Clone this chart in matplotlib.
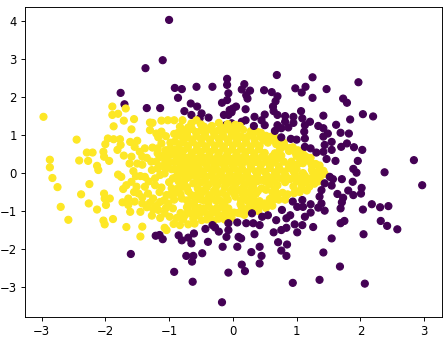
import matplotlib
matplotlib.use("Agg")
import matplotlib.pyplot as plt
import numpy as np

x_ticks = [-3, -2, -1, 0, 1, 2, 3]
y_ticks = [-3, -2, -1, 0, 1, 2, 3, 4]

# purple points that sit beneath the yellow cloud (upper-left edge)
purple_under = [
(-1.00,4.03),(-1.10,2.97),(-1.37,2.76),(-1.76,2.11),(-1.70,1.81),(-1.35,1.71),(-1.14,1.71),(-0.91,2.24),(-0.80,2.21),(-0.86,1.98),
(-0.57,2.27),(-0.32,2.27),(-0.09,2.48),(-0.09,2.32),(-0.07,2.10),(-0.09,1.92),(-0.17,1.85),(-0.66,1.83),(-0.56,1.75),(-0.76,1.63),
(-0.65,1.53),(-0.49,1.57),(-0.52,1.44),(-0.38,1.46),(-0.14,1.53),(-0.05,1.66),(0.00,1.70),(-0.07,1.53),(-0.11,1.26),(-0.02,1.31),
(0.05,1.75),(-0.02,1.60),(0.20,1.39),(0.14,1.35),
]

purple_over = [
(0.69,2.58),(1.25,2.52),(1.97,2.39),(0.18,2.34),(0.14,2.20),(0.27,2.17),(0.21,2.05),(0.23,1.96),(0.49,2.18),(0.61,2.13),
(0.70,2.02),(0.67,1.89),(0.63,1.75),(0.64,1.63),(0.98,2.23),(1.14,2.27),(1.08,2.12),(1.47,2.21),(1.25,1.98),(1.73,1.96),
(1.79,1.85),(1.07,1.63),(1.42,1.51),(2.04,1.55),(2.20,1.49),(1.84,1.41),(1.62,1.27),(1.69,1.06),(1.82,1.04),(0.20,1.68),
(0.34,1.48),(0.50,1.54),(0.45,1.39),(0.33,1.24),(0.50,1.26),(0.70,1.53),
(0.82,1.50),(0.95,1.48),(0.95,1.32),(0.82,1.35),(0.70,1.26),(0.66,1.11),(0.76,1.18),(0.87,1.20),(0.76,0.94),(0.91,0.90),
(1.00,0.88),(1.09,1.44),(1.21,1.35),(1.13,1.26),(1.12,1.09),(1.13,0.91),(1.13,0.69),(1.22,0.65),(1.34,1.24),(1.42,1.18),
(1.49,1.04),(1.42,0.96),(1.55,0.82),(1.44,0.74),(1.55,0.61),(1.31,0.54),(1.42,0.56),(1.70,0.69),(1.79,0.78),(1.90,0.68),
(2.03,0.61),(1.47,0.37),(1.61,0.32),(1.96,0.32),(2.84,0.34),(1.89,0.11),(1.94,0.01),(2.38,0.02),(2.97,-0.32),(1.88,-0.23),
(1.71,-0.16),(1.52,-0.10),(1.57,-0.16),(1.44,-0.27),(1.55,-0.33),(2.02,-0.39),(2.01,-0.54),(1.81,-0.46),(1.89,-0.58),(1.64,-0.55),
(1.73,-0.65),(1.71,-0.77),(1.69,-0.93),(2.18,-0.82),(2.31,-0.90),(2.44,-0.87),(2.04,-0.96),(1.39,-0.45),(1.36,-0.62),(1.39,-0.80),
(1.34,-0.91),(1.44,-0.99),(1.22,-0.82),(1.22,-1.04),(1.13,-1.15),(1.09,-0.71),(0.94,-0.75),(1.01,-0.89),(1.10,-0.89),(0.77,-0.97),
(0.90,-1.11),(0.84,-1.19),(0.68,-1.24),(0.55,-1.11),(0.46,-1.15),(0.30,-1.06),(0.42,-1.37),(0.32,-1.32),(0.21,-1.32),(0.07,-1.30),
(-0.07,-1.32),(-0.07,-1.50),(-0.10,-1.68),(0.97,-1.35),(1.09,-1.37),(0.84,-1.44),(0.76,-1.50),(0.64,-1.56),(1.01,-1.56),(1.26,-1.42),
(0.34,-1.61),(0.09,-1.68),(0.13,-1.72),(1.55,-1.72),(1.69,-1.32),(1.75,-1.26),(2.32,-1.26),(2.42,-1.39),(2.58,-1.48),(2.05,-1.61),
(0.71,-1.82),(0.85,-1.88),(0.42,-1.94),(0.07,-1.94),(0.29,-2.08),(0.76,-2.04),(0.84,-2.18),(0.45,-2.18),(0.42,-2.38),(1.42,-2.09),
(1.68,-2.46),(0.14,-2.41),(0.19,-2.58),(-0.07,-2.62),(0.94,-2.89),(1.36,-2.81),(2.07,-2.91),(-0.17,-3.40),
(-1.60,-2.13),(-1.21,-1.65),(-1.15,-1.63),(-1.10,-1.74),(-0.85,-1.64),(-0.80,-1.77),(-0.70,-1.70),(-0.61,-1.59),(-0.65,-1.85),(-0.43,-1.47),
(-0.32,-1.37),(-0.28,-1.43),(-0.22,-1.54),(-0.39,-1.81),(-0.16,-1.94),(-0.48,-2.11),(-0.73,-2.18),(-0.62,-2.18),(-0.64,-2.33),(-0.92,-2.60),
(-0.63,-2.86),
]

yellow_outer = [
(-2.97,1.48),(-1.89,1.75),(-1.68,1.70),(-1.89,1.53),(-1.80,1.56),(-1.71,1.38),(-1.55,1.42),(-1.87,1.23),(-1.59,1.15),(-2.45,0.88),
(-1.96,0.91),(-2.00,0.76),(-1.87,0.89),(-1.77,0.89),(-1.76,0.74),(-1.81,0.61),(-1.61,0.82),(-1.50,0.85),(-1.54,0.69),(-1.38,0.65),
(-1.26,0.67),(-1.46,0.56),(-1.42,0.43),(-1.71,0.46),(-1.59,0.43),(-1.62,0.25),(-2.29,0.54),(-2.20,0.54),(-2.41,0.33),(-2.27,0.32),
(-2.87,0.35),(-2.87,0.15),(-2.03,0.56),(-2.02,0.43),(-1.94,0.32),(-2.13,0.19),(-1.30,1.33),(-1.26,1.32),(-1.30,1.13),(-1.12,1.38),
(-1.02,1.39),(-0.92,1.39),(-0.79,1.39),(-1.20,1.04),(-1.12,1.09),(-1.17,0.94),(-0.92,1.03),(-0.83,1.22),(-0.57,1.39),(-0.33,1.24),
(-1.28,0.30),(-1.50,0.25),(-1.42,0.22),(-1.35,0.40),
(-2.83,-0.13),(-2.75,-0.37),(-2.70,-0.89),(-2.58,-1.23),(-2.38,-0.56),(-2.25,-0.29),(-2.26,-0.80),(-2.13,-0.96),(-2.02,-0.54),(-2.01,-0.67),
(-1.93,-0.67),(-1.99,-0.84),(-2.03,-1.25),(-2.01,-1.35),(-1.88,-1.21),(-1.67,-1.42),(-1.42,-1.41),(-1.45,-1.67),(-2.11,0.08),(-1.80,-0.04),
(-1.75,-0.10),(-1.72,-0.42),(-1.67,-0.32),(-1.59,-0.23),(-1.51,-0.36),(-1.64,-0.67),(-1.73,-0.77),(-1.61,-1.02),(-1.64,-0.84),(-1.54,-0.75),
(-1.45,-1.02),(-1.35,-0.90),(-1.27,-1.12),(-1.17,-0.97),(-1.14,-1.18),(-1.07,-1.44),(-1.04,-1.50),(-1.56,0.05),(-1.38,-0.10),(-1.22,-0.14),
(-1.27,0.08),(-1.38,-0.36),(-1.22,-0.32),(-1.25,-0.67),(-1.33,-0.54),(-1.48,-0.54),(-1.45,-0.08),(-1.52,-0.08),
(-1.55,-0.50),(-1.42,-0.64),(-1.30,-0.78),(-1.20,-0.86),(-1.42,-0.80),(-1.15,-0.50),(-1.32,-0.22),(-1.18,0.52),(-1.14,-0.76),(-1.25,-0.95),
]

yellow_core_a = [
(-1.07,-0.01),(-0.94,-0.14),(-0.96,-0.40),(-1.04,-0.58),(-1.01,-0.80),(-0.94,-0.93),(-0.99,-1.15),(-0.88,-1.18),(-0.75,-1.11),(-0.83,-1.37),
(-0.70,-1.35),(-0.57,-1.11),(-0.49,-1.24),(-0.36,-1.11),(-0.20,-1.11),(-0.07,-0.93),(-0.67,-0.80),(-0.46,-0.93),(-0.80,-0.67),(-0.57,-0.58),
(-0.78,-0.36),(-0.62,-0.27),(-0.70,-1.00),(-0.58,-0.98),(-0.32,-0.96),(-0.18,-0.90),(-0.13,-1.22),(-0.30,-1.25),(-0.92,-0.70),(-0.90,-0.52),
(-0.70,-0.48),(-0.45,-0.72),(-0.33,-0.66),(-0.20,-0.72),(-0.08,-0.70),(0.04,-0.62),(-0.45,-0.45),(-0.30,-0.48),(-0.16,-0.52),(-0.03,-0.46),
(0.10,-0.45),(0.22,-0.52),(-1.00,-0.24),(-0.85,-0.22),(-0.50,-0.25),(-0.38,-0.30),(-0.24,-0.30),(-0.10,-0.28),(0.05,-0.27),(0.18,-0.31),
(0.32,-0.34),(0.45,-0.40),(0.58,-0.30),(0.70,-0.32),(0.78,-0.52),(0.62,-0.50),(0.36,-0.55),(0.35,-0.74),(0.22,-0.72),(0.12,-0.82),
(0.20,-0.96),(0.08,-1.05),(0.32,-0.92),(0.45,-0.85),(0.58,-0.78),(0.66,-0.68),(0.50,-0.80),(0.40,-1.00),(-0.05,-1.12),(0.18,-1.10),
(1.00,-0.48),(0.95,-0.35),(1.08,-0.30),(1.20,-0.36),(1.28,-0.28),(1.36,-0.14),(1.44,-0.02),(1.30,-0.06),(1.20,-0.16),(1.05,-0.14),
(0.90,-0.16),(0.75,-0.14),(0.60,-0.12),(0.46,-0.18),(0.30,-0.16),(0.16,-0.12),(0.02,-0.10),(-0.12,-0.12),(-0.28,-0.14),(-0.42,-0.10),
(-0.56,-0.10),(-0.70,-0.12),(-0.82,-0.04),
(-0.96,0.10),(-0.84,0.12),(-0.72,0.05),(-0.60,0.06),(-0.46,0.04),(-0.32,0.02),(-0.18,0.04),(-0.05,0.03),(0.08,0.05),(0.22,0.02),
(0.36,0.04),(0.50,0.03),(0.66,0.02),(0.80,0.04),(0.96,0.02),(1.10,0.00),(1.24,0.08),(1.36,0.10),(1.30,0.24),(1.22,0.28),
(1.04,0.26),(0.88,0.20),(0.72,0.18),(0.58,0.20),(0.44,0.21),(0.28,0.19),(0.14,0.22),(0.00,0.20),(-0.14,0.21),(-0.28,0.19),
(-0.42,0.22),(-0.56,0.20),(-0.70,0.23),(-0.84,0.28),(-1.00,0.28),(-1.12,0.18),(-1.15,0.42),(-1.00,0.46),(-0.86,0.44),(-0.72,0.40),
(-0.58,0.38),(-0.44,0.40),(-0.30,0.36),(-0.16,0.38),(-0.02,0.37),(0.12,0.39),(0.26,0.36),(0.40,0.38),(0.55,0.36),(0.70,0.38),
(0.92,0.30),(1.06,0.38),(1.18,0.36),(1.10,0.50),(0.98,0.54),(0.66,0.52),(0.50,0.53),(0.34,0.52),(0.20,0.55),(0.06,0.53),
(-0.08,0.55),(-0.22,0.53),(-0.36,0.55),(-0.50,0.56),(-0.64,0.54),(-0.78,0.58),(-0.92,0.62),(-1.06,0.60),(-1.12,0.78),(-0.98,0.80),
(-0.84,0.76),(-0.70,0.72),(-0.56,0.72),(-0.42,0.70),(-0.28,0.72),(-0.14,0.70),(0.00,0.72),(0.14,0.70),(0.28,0.70),(0.42,0.72),
(0.68,0.76),(0.82,0.70),(0.94,0.68),(0.90,0.66),(-0.78,0.92),(-0.64,0.88),(-0.50,0.90),(-0.36,0.88),(-0.22,0.90),(-0.08,0.88),
(0.06,0.86),(0.20,0.88),(0.34,0.88),(0.48,0.86),(0.62,0.88),(0.74,0.82),(-0.86,1.06),(-0.72,1.04),(-0.58,1.08),(-0.44,1.04),
(-0.30,1.08),(-0.16,1.04),(-0.02,1.06),(0.08,0.98),(0.30,1.00),(0.39,1.08),(0.52,0.98),(-0.70,1.20),(-0.45,1.22),(-0.18,1.20),
(-0.04,1.18),(0.02,1.16),
]

yellow_core_b = [
(-0.65,1.31),(-0.50,1.28),(-0.22,1.32),(-0.08,1.29),(0.04,1.27),(0.11,1.24),
(-0.78,1.13),(-0.64,1.16),(-0.50,1.12),(-0.37,1.15),(-0.23,1.12),(-0.10,1.15),(0.05,1.11),(0.16,1.14),(0.28,1.10),(0.44,1.06),
(-1.05,0.97),(-0.85,0.99),(-0.71,0.95),(-0.57,0.98),(-0.43,0.96),(-0.29,0.99),(-0.15,0.96),(-0.02,0.98),(0.14,0.95),(0.25,0.98),(0.44,0.95),(0.60,0.96),(0.66,0.93),
(-0.91,0.83),(-0.77,0.80),(-0.63,0.82),(-0.49,0.79),(-0.35,0.81),(-0.21,0.78),(-0.07,0.82),(0.07,0.79),(0.21,0.80),(0.35,0.78),(0.55,0.80),(0.76,0.76),(0.80,0.80),
(-1.18,0.65),(-0.99,0.64),(-0.85,0.62),(-0.71,0.65),(-0.57,0.61),(-0.43,0.64),(-0.29,0.62),(-0.15,0.65),(-0.01,0.62),(0.13,0.64),(0.27,0.61),(0.41,0.63),(0.74,0.62),(0.88,0.58),(1.02,0.60),(1.05,0.56),
(-1.08,0.47),(-0.93,0.49),(-0.79,0.46),(-0.65,0.48),(-0.51,0.45),(-0.37,0.47),(-0.23,0.46),(-0.09,0.48),(0.05,0.45),(0.19,0.47),(0.33,0.44),(0.47,0.46),(0.62,0.44),(0.76,0.46),(1.00,0.45),(1.14,0.44),(1.22,0.40),
(-1.20,0.30),(-1.06,0.32),(-0.92,0.29),(-0.77,0.31),(-0.63,0.30),(-0.49,0.28),(-0.35,0.31),(-0.21,0.29),(-0.07,0.30),(0.07,0.28),(0.21,0.31),(0.36,0.29),(0.51,0.30),(0.65,0.28),(0.80,0.30),(0.96,0.22),(1.10,0.26),(1.24,0.20),(1.36,0.20),
(-1.18,0.12),(-1.04,0.14),(-0.90,0.10),(-0.78,0.13),(-0.66,0.14),(-0.53,0.11),(-0.39,0.13),(-0.25,0.10),(-0.11,0.12),(0.02,0.13),(0.15,0.10),(0.29,0.12),(0.43,0.11),(0.58,0.13),(0.73,0.10),(0.88,0.12),(1.00,0.10),(1.32,0.02),(1.42,0.06),
(-1.14,-0.05),(-0.88,-0.08),(-0.76,-0.03),(-0.63,-0.06),(-0.49,-0.04),(-0.35,-0.07),(-0.20,-0.03),(-0.05,-0.05),(0.09,-0.03),(0.23,-0.07),(0.38,-0.04),(0.53,-0.06),(0.68,-0.03),(0.83,-0.07),(0.98,-0.05),(1.13,-0.07),(1.26,0.00),(1.38,-0.06),
(-0.76,-0.20),(-0.56,-0.22),(-0.44,-0.19),(-0.31,-0.23),(-0.17,-0.20),(-0.03,-0.22),(0.12,-0.19),(0.25,-0.24),(0.39,-0.21),(0.52,-0.23),(0.65,-0.20),(0.82,-0.24),(1.00,-0.21),(1.14,-0.24),(1.27,-0.18),(1.34,-0.22),
(-1.12,-0.38),(-0.86,-0.40),(-0.72,-0.37),(-0.55,-0.41),(-0.41,-0.38),(-0.27,-0.41),(-0.13,-0.38),(0.00,-0.40),(0.16,-0.39),(0.28,-0.42),(0.39,-0.48),(0.52,-0.44),(0.66,-0.42),(1.08,-0.41),(1.16,-0.46),
(-0.98,-0.57),(-0.82,-0.55),(-0.65,-0.58),(-0.50,-0.55),(-0.38,-0.58),(-0.24,-0.55),(-0.10,-0.59),(0.02,-0.54),(0.16,-0.58),(0.29,-0.60),(0.70,-0.55),(0.86,-0.56),(0.96,-0.53),(1.05,-0.50),
(-1.08,-0.72),(-0.72,-0.72),(-0.60,-0.75),(-0.50,-0.70),(-0.38,-0.76),(-0.26,-0.73),(-0.14,-0.77),(0.13,-0.72),(0.28,-0.76),(0.42,-0.74),(0.58,-0.68),(0.72,-0.70),(0.82,-0.70),
(-1.05,-0.92),(-0.72,-0.90),(-0.60,-0.88),(-0.52,-0.92),(-0.38,-0.88),(-0.25,-0.92),(-0.12,-0.90),(0.14,-0.90),(0.26,-0.86),(0.38,-0.90),(0.52,-0.92),(0.62,-0.86),
(-1.07,-1.06),(-0.82,-1.05),(-0.64,-1.08),(-0.50,-1.04),(-0.40,-1.08),(-0.26,-1.05),(-0.12,-1.07),(0.02,-1.04),(0.12,-1.06),(0.26,-0.99),
(-0.78,-1.22),(-0.62,-1.20),(-0.41,-1.22),(-0.22,-1.20),(-0.02,-1.18),(-0.93,-1.34),(-0.60,-1.33),
]

purple_under = np.array(purple_under)
purple_over = np.array(purple_over)
yellow_outer = np.array(yellow_outer)
yellow_core_a = np.array(yellow_core_a)
yellow_core_b = np.array(yellow_core_b)

fig = plt.figure(figsize=(447 / 84, 337 / 84), dpi=84)
ax = fig.add_axes([25 / 447, (337 - 316.7) / 337, (441.7 - 25) / 447, (316.7 - 7) / 337])

groups = [(purple_under, 0), (yellow_outer, 1), (yellow_core_a, 1), (yellow_core_b, 1), (purple_over, 0)]
xs = np.concatenate([g[:, 0] for g, _ in groups])
ys = np.concatenate([g[:, 1] for g, _ in groups])
cs = np.concatenate([np.full(len(g), k) for g, k in groups])
ax.scatter(xs, ys, c=cs, cmap="viridis")

ax.set_xlim(-3.26, 3.276)
ax.set_ylim(-3.78, 4.37)
ax.set_xticks(x_ticks)
ax.set_yticks(y_ticks)

fig.savefig("out.png", dpi=84)
